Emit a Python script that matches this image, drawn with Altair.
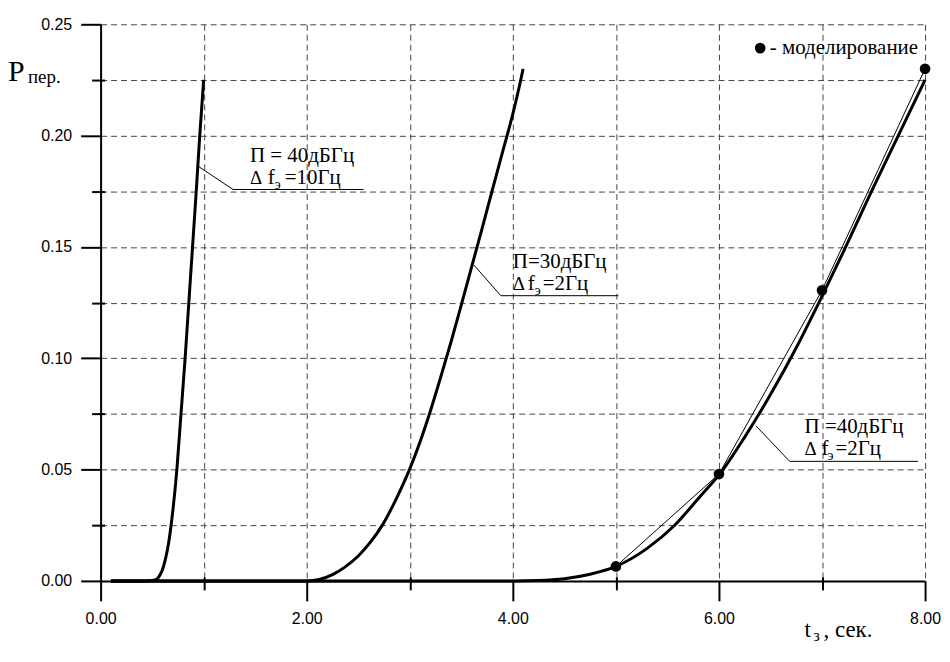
import altair as alt
import pandas as pd

# ---------------- data ----------------
# Curve 1: П = 40 дБГц, Δfэ = 10 Гц
c1_t = [0.10, 0.45, 0.50, 0.55, 0.58, 0.60, 0.63, 0.66, 0.684, 0.74, 0.78, 0.82, 0.856, 0.892, 0.928, 0.962, 1.00]
c1_p = [0.0, 0.0, 0.0002, 0.001, 0.003, 0.005, 0.010, 0.017, 0.025, 0.050, 0.075, 0.100, 0.125, 0.150, 0.175, 0.200, 0.225]
# Curve 2: П = 30 дБГц, Δfэ = 2 Гц
c2_t = [0.10, 1.90, 2.00, 2.12, 2.25, 2.37, 2.50, 2.62, 2.74, 2.87, 3.00, 3.10, 3.20, 3.30, 3.40, 3.50, 3.60, 3.70, 3.80, 3.90, 4.00, 4.065, 4.10]
c2_p = [0.0, 0.0, 0.0, 0.0006, 0.0028, 0.0062, 0.0112, 0.0175, 0.0255, 0.037, 0.0503, 0.0625, 0.0763, 0.0915, 0.1073,
        0.124, 0.141, 0.158, 0.1754, 0.1926, 0.2098, 0.2225, 0.230]
# Curve 3: П = 40 дБГц, Δfэ = 2 Гц
c3_t = [0.10, 4.00, 4.25, 4.50, 4.75, 5.00, 5.30, 5.57, 5.80, 6.04, 6.25, 6.50, 6.75, 6.97, 7.23, 7.48, 7.74, 8.00]
c3_p = [0.0, 0.0, 0.0002, 0.001, 0.003, 0.0065, 0.0145, 0.025, 0.037, 0.050, 0.0646, 0.0837, 0.1047, 0.125, 0.150,
        0.175, 0.200, 0.225]
# Simulation points
sim_t = [5.0, 6.0, 7.0, 8.0]
sim_p = [0.0065, 0.048, 0.1305, 0.230]

# Annotations
ann_line1 = ["П = 40дБГц", "П=30дБГц", "П =40дБГц"]
ann_rest = ["=10Гц", "=2Гц", "=2Гц"]
ann_x0 = [0.955, 3.620, 6.360]
ann_y0 = [0.1860, 0.1420, 0.0696]
ann_xb = [1.285, 3.884, 6.686]
ann_yb = [0.1758, 0.1281, 0.0537]
ann_xe = [2.551, 5.024, 7.932]
ann_tx = [1.449, 4.000, 6.831]

legend_text = "- моделирование"

x_grid_vals = [0, 1, 2, 3, 4, 5, 6, 7, 8]
x_major_vals = [0, 2, 4, 6, 8]
x_minor_vals = [1, 3, 5, 7]
y_grid_vals = [0, 0.025, 0.05, 0.075, 0.1, 0.125, 0.15, 0.175, 0.2, 0.225, 0.25]
y_major_vals = [0, 0.05, 0.1, 0.15, 0.2, 0.25]
y_minor_vals = [0.025, 0.075, 0.125, 0.175, 0.225]

# ---------------- tables ----------------
rows = []
for name, ts, ps in [("c1", c1_t, c1_p), ("c2", c2_t, c2_p), ("c3", c3_t, c3_p)]:
    for i, (t, p) in enumerate(zip(ts, ps)):
        rows.append({"series": name, "i": i, "t": t, "p": p})
curves = pd.DataFrame(rows)
sim = pd.DataFrame({"t": sim_t, "p": sim_p})

lead_rows = []
for k in range(3):
    lead_rows += [
        {"a": k, "i": 0, "t": ann_x0[k], "p": ann_y0[k]},
        {"a": k, "i": 1, "t": ann_xb[k], "p": ann_yb[k]},
        {"a": k, "i": 2, "t": ann_xe[k], "p": ann_yb[k]},
    ]
leaders = pd.DataFrame(lead_rows)

W, H = 828, 559
xs = alt.Scale(domain=[0, 8], nice=False, zero=False)
ys = alt.Scale(domain=[0, 0.25], nice=False, zero=False)
SERIF = "Liberation Serif"
SANS = "Liberation Sans"

grid_x = alt.Axis(values=x_grid_vals, grid=True, gridDash=[6, 4], gridColor="#444444",
                  gridWidth=1, ticks=False, labels=False, domain=False, title=None, orient="bottom")
grid_y = alt.Axis(values=y_grid_vals, grid=True, gridDash=[6, 4], gridColor="#444444",
                  gridWidth=1, ticks=False, labels=False, domain=False, title=None, orient="left")
minor_x = alt.Axis(values=x_minor_vals, grid=False, ticks=True, tickSize=13, tickWidth=2,
                   tickColor="black", labels=False, domain=False, title=None, orient="bottom", offset=-4)
minor_y = alt.Axis(values=y_minor_vals, grid=False, ticks=True, tickSize=13, tickWidth=2,
                   tickColor="black", labels=False, domain=False, title=None, orient="left", offset=-4)
major_x = alt.Axis(values=x_major_vals, grid=False, ticks=True, tickSize=20, tickWidth=2,
                   tickColor="black", domain=True, domainColor="black", domainWidth=2,
                   labels=True, labelFlush=False, format=".2f", labelFont=SANS, labelFontSize=16,
                   labelColor="black", labelPadding=10, title=None, orient="bottom")
major_y = alt.Axis(values=y_major_vals, grid=False, ticks=True, tickSize=20, tickWidth=2,
                   tickColor="black", domain=True, domainColor="black", domainWidth=2,
                   labels=True, labelFlush=False, format=".2f", labelFont=SANS, labelFontSize=16,
                   labelColor="black", labelPadding=9, title=None, orient="left")

curve_layer = alt.Chart(curves).mark_line(color="black", strokeWidth=3, interpolate="monotone").encode(
    x=alt.X("t:Q", scale=xs, axis=grid_x),
    y=alt.Y("p:Q", scale=ys, axis=grid_y),
    detail="series:N",
    order="i:Q",
)

sim_line = alt.Chart(sim).mark_line(color="black", strokeWidth=1).encode(
    x=alt.X("t:Q", scale=xs, axis=minor_x),
    y=alt.Y("p:Q", scale=ys, axis=minor_y),
)

sim_pts = alt.Chart(sim).mark_point(filled=True, color="black", size=115, opacity=1).encode(
    x=alt.X("t:Q", scale=xs, axis=major_x),
    y=alt.Y("p:Q", scale=ys, axis=major_y),
)

lead_layer = alt.Chart(leaders).mark_line(color="black", strokeWidth=1).encode(
    x=alt.X("t:Q", scale=xs, axis=None),
    y=alt.Y("p:Q", scale=ys, axis=None),
    detail="a:N",
    order="i:Q",
)

layers = [curve_layer, sim_line, sim_pts, lead_layer]

# annotation texts
dx_f = [18, 15, 17]
dx_e = [25, 22, 23]
dx_r = [35, 30, 31]
for k in range(3):
    base = alt.Chart(pd.DataFrame({"t": [ann_tx[k]], "p": [ann_yb[k]],
                                   "l1": [ann_line1[k]], "r": [ann_rest[k]]}))
    enc = dict(x=alt.X("t:Q", scale=xs, axis=None), y=alt.Y("p:Q", scale=ys, axis=None))
    layers.append(base.mark_text(font=SERIF, fontSize=21, align="left", baseline="alphabetic",
                                 dy=-28, color="black").encode(text="l1:N", **enc))
    layers.append(base.mark_text(font=SERIF, fontSize=19, align="left", baseline="alphabetic",
                                 dy=-6, color="black").encode(text=alt.value("Δ"), **enc))
    layers.append(base.mark_text(font=SERIF, fontSize=21, align="left", baseline="alphabetic",
                                 dx=dx_f[k], dy=-6, color="black").encode(text=alt.value("f"), **enc))
    layers.append(base.mark_text(font=SERIF, fontSize=14, align="left", baseline="alphabetic",
                                 dx=dx_e[k], dy=-1, color="black").encode(text=alt.value("э"), **enc))
    layers.append(base.mark_text(font=SERIF, fontSize=21, align="left", baseline="alphabetic",
                                 dx=dx_r[k], dy=-6, color="black").encode(text="r:N", **enc))

# legend
leg = alt.Chart(pd.DataFrame({"t": [7.932], "p": [0.2393], "s": [legend_text]}))
layers.append(leg.mark_text(font=SERIF, fontSize=21, align="right", baseline="middle", color="black").encode(
    x=alt.X("t:Q", scale=xs, axis=None), y=alt.Y("p:Q", scale=ys, axis=None), text="s:N"))
leg_dot = alt.Chart(pd.DataFrame({"t": [6.40], "p": [0.2393]}))
layers.append(leg_dot.mark_point(filled=True, color="black", size=115, opacity=1).encode(
    x=alt.X("t:Q", scale=xs, axis=None), y=alt.Y("p:Q", scale=ys, axis=None)))

# axis titles (pixel positions relative to the plot area)
ttl = alt.Chart(pd.DataFrame({"s": ["x"]}))
def title_text(txt, px, py, size, align="left"):
    return ttl.mark_text(font=SERIF, fontSize=size, align=align, baseline="alphabetic", color="black").encode(
        x=alt.value(px), y=alt.value(py), text=alt.value(txt))

layers.append(title_text("P", -93, 57, 30))
layers.append(title_text("пер.", -73, 59, 19))
layers.append(title_text("t", 707, 615, 23))
layers.append(title_text("з", 716, 619, 16))
layers.append(title_text(", сек.", 726, 615, 23))

chart = alt.layer(*layers).resolve_axis(x="independent", y="independent").properties(
    width=W, height=H,
    autosize=alt.AutoSizeParams(type="none"),
    padding={"left": 93, "top": 15, "right": 17, "bottom": 64},
    background="white",
).configure_view(stroke=None)

chart.save("out.html", embed_options={"renderer": "svg", "actions": False})
